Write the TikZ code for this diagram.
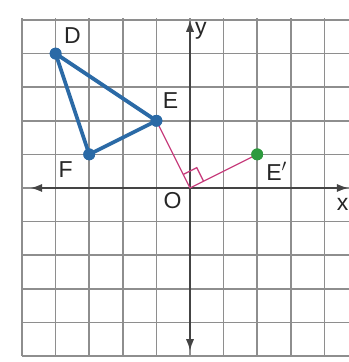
\documentclass[tikz,border=0pt]{standalone}
\usepackage{fontspec}
\setmainfont{Liberation Sans}
\usetikzlibrary{arrows.meta,calc}
\definecolor{triblue}{HTML}{2B6AA6}
\definecolor{rotpink}{HTML}{C8407E}
\definecolor{ptgreen}{HTML}{2E9A3E}
\definecolor{gridgray}{HTML}{8E8E8E}
\definecolor{axisgray}{HTML}{444444}
\tikzset{
  gridline/.style={gridgray, line width=1.3pt},
  axisline/.style={axisgray, line width=1.5pt, {Latex[length=10pt,width=7pt]}-{Latex[length=10pt,width=7pt]}},
  triside/.style={triblue, line width=3.2pt, line join=round},
  rotline/.style={rotpink, line width=1.1pt},
  bluedot/.style={circle, fill=triblue, inner sep=0pt, minimum size=10pt},
  greendot/.style={circle, fill=ptgreen, inner sep=0pt, minimum size=10pt},
  lbl/.style={font=\fontsize{19.5}{22}\selectfont, text=black!85, inner sep=0pt}
}
\begin{document}
\begin{tikzpicture}
\useasboundingbox (-5.655,-5.179) rectangle (4.732,5.595);
\fill[white] (-5.655,-5.179) rectangle (4.732,5.595);
\clip (-5.655,-5.179) rectangle (4.732,5.595);
% grid
\draw[gridline] (-5,-5) grid (4.8,5.05);
% axes
\coordinate (xl) at (-4.75,0);
\coordinate (xr) at (4.72,0);
\coordinate (yb) at (0,-4.85);
\coordinate (yt) at (0,5.0);
\draw[axisline] (xl) -- (xr);
\draw[axisline] (yb) -- (yt);
% points
\coordinate (O) at (0,0);
\node[bluedot] (D) at (-4,4) {};
\node[bluedot] (E) at (-1,2) {};
\node[bluedot] (F) at (-3,1) {};
% rotation segments
\draw[rotline] (O) -- (E.center);
\node[greendot] (Ep) at (2,1) {};
\draw[rotline] (O) -- (Ep.center);
% right angle mark
\coordinate (ra1) at ($(O)!0.45cm!(E.center)$);
\coordinate (ra3) at ($(O)!0.45cm!(Ep.center)$);
\coordinate (ra2) at ($(ra1)+(ra3)$);
\draw[rotline] (ra1) -- (ra2) -- (ra3);
% triangle
\draw[triside] (D.center) -- (E.center) -- (F.center) -- cycle;
\node[bluedot] at (D) {};
\node[bluedot] at (E) {};
\node[bluedot] at (F) {};
\node[greendot] at (Ep) {};
% labels
\node[lbl] (lD) at (-3.5,4.55) {D};
\node[lbl] (lE) at (-0.58,2.6) {E};
\node[lbl] (lF) at (-3.7,0.55) {F};
\node[lbl] (lEp) at (2.58,0.5) {E$'$};
\node[lbl] (lO) at (-0.52,-0.38) {O};
\node[lbl] (ly) at (0.32,4.68) {y};
\node[lbl,anchor=east] (lx) at (4.72,-0.48) {x};
\end{tikzpicture}
\end{document}
